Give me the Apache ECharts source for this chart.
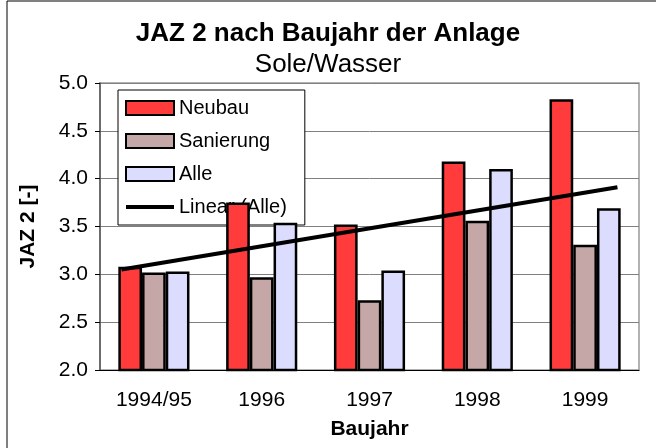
<!DOCTYPE html>
<html>
<head>
<meta charset="utf-8">
<script src="https://cdn.jsdelivr.net/npm/echarts@6/dist/echarts.min.js"></script>
<style>
  html, body { margin: 0; padding: 0; background: #fff; }
  #chart { width: 656px; height: 448px; }
</style>
</head>
<body>
<div id="chart"></div>
<script>
// Daten
var baujahre = ["1994/95", "1996", "1997", "1998", "1999"];
var neubau = [3.08, 3.75, 3.52, 4.18, 4.83];
var sanierung = [3.02, 2.97, 2.73, 3.56, 3.31];
var alle = [3.03, 3.54, 3.04, 4.10, 3.69];
// Trendlinie (Linear (Alle)): Anfangs- und Endpunkt, x in Kategorie-Einheiten
var trendX = [0.7, 5.3];
var trendY = [3.05, 3.91];

var font = "Liberation Sans, Arial, sans-serif";
// dicker Strich als Legendensymbol (winzige Ecken halten die Box 48x14)
var lineIcon = "path://M0,0 L0.01,0 L0,0.01 Z M0,5 L48,5 L48,9 L0,9 Z M48,14 L47.99,14 L48,13.99 Z";

var chart = echarts.init(document.getElementById("chart"));

function barSeries(name, data, color) {
  return {
    name: name,
    type: "bar",
    data: data,
    barGap: "0%",
    barCategoryGap: "34%",
    z: 3,
    itemStyle: { color: color, borderColor: "#000", borderWidth: 2.5 }
  };
}

chart.setOption({
  animation: false,
  textStyle: { fontFamily: font, color: "#000" },
  graphic: [
    {
      type: "rect",
      shape: { x: 7, y: 1, width: 700, height: 500 },
      style: { fill: null, stroke: "#000", lineWidth: 1 },
      z: 0
    }
  ],
  title: {
    text: "JAZ 2 nach Baujahr der Anlage",
    subtext: "Sole/Wasser",
    left: "center",
    top: 16,
    itemGap: 5,
    textStyle: { fontFamily: font, fontSize: 26, lineHeight: 26, fontWeight: "bold", color: "#000" },
    subtextStyle: { fontFamily: font, fontSize: 26, lineHeight: 26, color: "#000" }
  },
  legend: {
    orient: "vertical",
    left: 118,
    top: 90,
    z: 1,
    backgroundColor: "#fff",
    borderColor: "#000",
    borderWidth: 1,
    borderRadius: 0,
    padding: [8, 18, 8, 7],
    itemWidth: 48,
    itemHeight: 14,
    itemGap: 13,
    textStyle: { fontFamily: font, fontSize: 20, lineHeight: 20, color: "#000" },
    data: [
      { name: "Neubau", icon: "rect" },
      { name: "Sanierung", icon: "rect" },
      { name: "Alle", icon: "rect" },
      { name: "Linear (Alle)", icon: lineIcon, itemStyle: { color: "#000", borderWidth: 0 } }
    ]
  },
  grid: { left: 100, right: 17, top: 83, bottom: 78, show: true, borderColor: "#999", borderWidth: 1.5 },
  xAxis: [
    {
      type: "category",
      data: baujahre,
      name: "Baujahr",
      nameLocation: "middle",
      nameGap: 49,
      nameTextStyle: { fontFamily: font, fontSize: 21, fontWeight: "bold", color: "#000" },
      axisLine: { lineStyle: { color: "#000", width: 1 } },
      axisTick: { length: 5, lineStyle: { color: "#000" } },
      axisLabel: { fontFamily: font, fontSize: 21, color: "#000", margin: 20 }
    },
    {
      type: "value",
      min: 0.5,
      max: 5.5,
      show: false
    }
  ],
  yAxis: {
    type: "value",
    min: 2,
    max: 5,
    interval: 0.5,
    name: "JAZ 2 [-]",
    nameLocation: "middle",
    nameGap: 61,
    nameTextStyle: { fontFamily: font, fontSize: 21, fontWeight: "bold", color: "#000" },
    axisLine: { show: true, lineStyle: { color: "#555", width: 1.5 } },
    axisTick: { show: true, length: 5, lineStyle: { color: "#000" } },
    axisLabel: {
      fontFamily: font, fontSize: 21, color: "#000", margin: 12,
      formatter: function (v) { return v.toFixed(1); }
    },
    splitLine: { lineStyle: { color: "#808080", width: 1 } }
  },
  series: [
    barSeries("Neubau", neubau, "#FF3B3B"),
    barSeries("Sanierung", sanierung, "#C6A7A7"),
    barSeries("Alle", alle, "#DCDCFF"),
    {
      name: "Linear (Alle)",
      type: "line",
      xAxisIndex: 1,
      data: trendX.map(function (x, i) { return [x, trendY[i]]; }),
      symbol: "none",
      z: 4,
      lineStyle: { color: "#000", width: 4 },
      itemStyle: { color: "#000" }
    }
  ]
});
</script>
</body>
</html>
